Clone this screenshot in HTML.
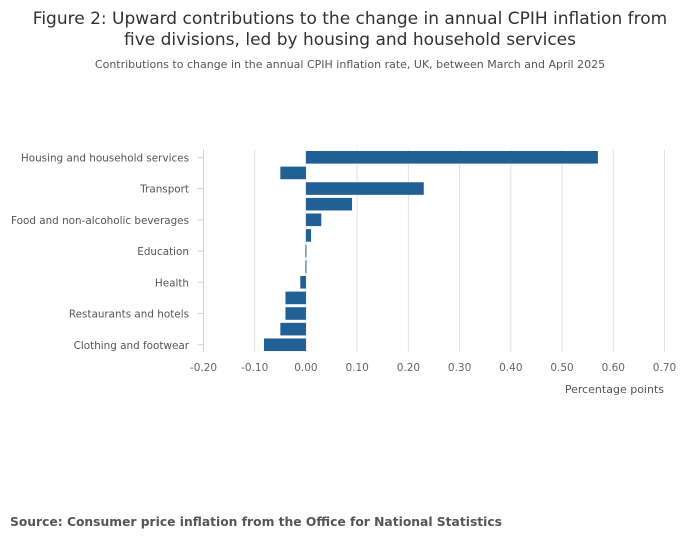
<!DOCTYPE html>
<html><head><meta charset="utf-8"><style>
body{margin:0;background:#fff;font-family:"DejaVu Sans","Liberation Sans",sans-serif;}
</style></head><body>
<svg width="700" height="549" xmlns="http://www.w3.org/2000/svg" font-family="DejaVu Sans, Liberation Sans, sans-serif">
<text x="350" y="24" text-anchor="middle" font-size="17" fill="#323132">Figure 2: Upward contributions to the change in annual CPIH inflation from</text>
<text x="350" y="45" text-anchor="middle" font-size="17" fill="#323132">five divisions, led by housing and household services</text>
<text x="350" y="68" text-anchor="middle" font-size="11" fill="#555">Contributions to change in the annual CPIH inflation rate, UK, between March and April 2025</text>
<g id="grid"></g><g id="bars"></g><g id="axes"></g>
<text x="664" y="393" text-anchor="end" font-size="11" fill="#555">Percentage points</text>
<text x="10" y="526" font-size="12.3" font-weight="bold" fill="#555">Source: Consumer price inflation from the Office for National Statistics</text>
</svg>
<script>
const labels=["Housing and household services","","Transport","","Food and non-alcoholic beverages","","Education","","Health","","Restaurants and hotels","","Clothing and footwear"];
const values=[0.57,-0.05,0.23,0.09,0.03,0.01,-0.001,-0.001,-0.011,-0.04,-0.04,-0.05,-0.082];
const ticks=[-0.2,-0.1,0,0.1,0.2,0.3,0.4,0.5,0.6,0.7];
const NS="http://www.w3.org/2000/svg";
const x0=203.5,x1=664.5,vmin=-0.2,vmax=0.7;
const X=v=>x0+(v-vmin)/(vmax-vmin)*(x1-x0);
const plotTop=149.5,step=15.62;
const Y=i=>plotTop+step*(i+0.5);
function mk(t,a,p){const e=document.createElementNS(NS,t);for(const k in a)e.setAttribute(k,a[k]);document.getElementById(p).appendChild(e);return e;}
ticks.forEach(t=>{
 if(t!==vmin){const g=mk("line",{x1:X(t),x2:X(t),y1:plotTop,y2:352,stroke:"#e2e2e2","stroke-width":1},"grid");
 
 }
 const l=mk("text",{x:X(t),y:371,"text-anchor":"middle","font-size":"10.5","fill":"#666"},"axes");
 l.textContent=t.toFixed(2);
 
 
});
const ax=mk("line",{x1:x0,x2:x0,y1:plotTop,y2:352,stroke:"#c9d3e6","stroke-width":1},"axes");


values.forEach((v,i)=>{
 const a=X(Math.min(0,v)),b=X(Math.max(0,v));
 const r=mk("rect",{x:a,y:Y(i)-6.3,width:Math.max(b-a,1),height:12.6,fill:"#206095"},"bars");
 
 
 if(labels[i]){
  const tk=mk("line",{x1:x0-6,x2:x0,y1:Y(i),y2:Y(i),stroke:"#c9d3e6"},"axes");
  
  
  const t=mk("text",{x:189,y:Y(i)+4,"text-anchor":"end","font-size":"10.4","fill":"#555"},"axes");
  t.textContent=labels[i];
  
  
 }
});
</script>
</body></html>
